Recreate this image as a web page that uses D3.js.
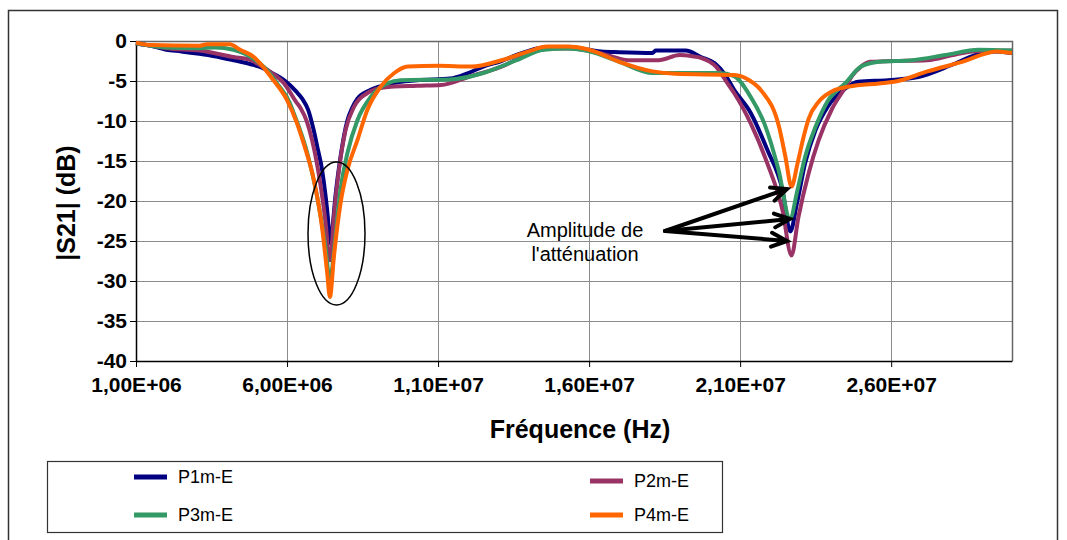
<!DOCTYPE html>
<html>
<head>
<meta charset="utf-8">
<script src="https://cdn.jsdelivr.net/npm/d3@7"></script>
<style>
  body { margin: 0; background: #fff; }
  svg { display: block; font-family: "Liberation Sans", Arial, sans-serif; }
</style>
</head>
<body>
<div id="chart"></div>
<script>
// frequency in MHz, |S21| in dB
const p1m = [[1,-0.3],[1.5,-0.6],[2,-1.1],[2.5,-1.3],[3.1,-1.6],[3.6,-1.9],[4.23,-2.4],[4.8,-2.9],[5.15,-3.3],[5.5,-4.0],[5.9,-4.9],[6.3,-6.3],[6.5,-7.2],[6.7,-8.6],[6.88,-11.1],[7.0,-13.2],[7.16,-16.1],[7.28,-19.5],[7.35,-22],[7.4,-24.6],[7.44,-25.3],[7.5,-23.5],[7.6,-19.5],[7.77,-14.5],[8.0,-9.9],[8.15,-8.4],[8.33,-7.2],[8.77,-6.1],[9.43,-5.3],[10.3,-4.9],[11.4,-4.7],[12.0,-4.0],[12.5,-3.2],[13.1,-2.5],[13.6,-1.75],[14.5,-0.8],[15.3,-0.75],[16.0,-1.1],[16.4,-1.3],[17.0,-1.4],[18.1,-1.5],[18.2,-1.2],[19.2,-1.2],[19.7,-2.0],[20.16,-2.8],[20.5,-4.2],[20.8,-6.1],[21.35,-9],[21.9,-13.6],[22.4,-18.6],[22.66,-23.8],[22.88,-20.3],[23.15,-15.3],[23.5,-11.1],[23.9,-8.2],[24.5,-5.9],[24.9,-5.1],[25.9,-4.9],[26.9,-4.5],[28.0,-3.0],[28.8,-1.75],[29.5,-1.3],[30,-1.5]];
const p2m = [[1,-0.3],[1.5,-0.6],[2,-0.9],[3.1,-1.2],[4.23,-2.0],[4.8,-2.4],[5.1,-3.0],[5.5,-4.0],[5.9,-5.3],[6.3,-7.6],[6.45,-8.4],[6.65,-10],[6.83,-12.4],[7.1,-17.8],[7.3,-23.6],[7.38,-27],[7.43,-27.4],[7.55,-22],[7.72,-16.1],[7.94,-11.1],[8.22,-8.2],[8.66,-6.5],[9.2,-5.8],[10.3,-5.6],[11.1,-5.5],[12.0,-4.5],[13.1,-3.2],[14.2,-1.3],[14.7,-0.95],[15.4,-0.95],[16.4,-1.55],[17.3,-2.4],[18.3,-2.4],[19.0,-1.75],[19.4,-1.9],[19.7,-2.1],[20.2,-3.2],[20.6,-5.4],[20.8,-6.5],[21.35,-10.3],[21.9,-15.3],[22.4,-21.1],[22.7,-26.8],[22.93,-22],[23.27,-16.5],[23.6,-12.4],[24.04,-8.5],[24.5,-5.7],[24.7,-4.4],[25.0,-3.2],[25.3,-2.6],[26,-2.5],[27.2,-2.4],[28.0,-1.8],[28.7,-1.3],[30,-1.2]];
const p3m = [[1,-0.3],[1.5,-0.6],[2,-0.8],[3.1,-0.9],[3.6,-0.8],[4.23,-1.1],[4.6,-1.6],[5.1,-2.8],[5.4,-3.9],[5.67,-5.3],[6.1,-7.8],[6.22,-9],[6.4,-10.8],[6.67,-14],[7.0,-19.5],[7.27,-25.7],[7.42,-29.9],[7.6,-24.5],[7.77,-18.6],[8.0,-14],[8.33,-9.9],[8.77,-7],[9.32,-5.3],[9.77,-4.9],[11.4,-4.8],[12.5,-4.0],[13.6,-2.4],[14.5,-1.1],[15.3,-0.95],[16.0,-1.3],[17.0,-2.6],[18.1,-4.0],[19.1,-4.0],[20.3,-4.0],[20.8,-4.4],[21.35,-7],[21.8,-10.3],[22.27,-16.1],[22.65,-22.2],[22.9,-18.6],[23.15,-14.5],[23.5,-10.7],[23.9,-7.5],[24.5,-5.2],[25.0,-3.2],[25.6,-2.6],[26.7,-2.4],[27.8,-1.75],[28.9,-1.1],[30,-1.2]];
const p4m = [[1,-0.2],[1.46,-0.5],[3.1,-0.6],[3.35,-0.4],[4.1,-0.4],[4.45,-1.1],[4.9,-2.0],[5.2,-3.2],[5.55,-4.9],[6.0,-7.4],[6.33,-10.3],[6.55,-12.8],[6.89,-17.4],[7.17,-23.6],[7.33,-29],[7.42,-32],[7.55,-27],[7.77,-20.3],[8.0,-16.1],[8.33,-12.4],[8.66,-8.6],[9.1,-5.7],[9.55,-4.0],[10.0,-3.2],[11,-3.1],[12.1,-3.2],[13.1,-2.4],[14.0,-1.3],[14.6,-0.7],[15.3,-0.7],[16.0,-1.1],[17.0,-2.6],[18.1,-3.8],[18.85,-4.1],[20.8,-4.25],[21.3,-4.9],[21.7,-6.2],[22.3,-10.9],[22.5,-14.5],[22.7,-18.2],[22.9,-15.3],[23.1,-12],[23.27,-9.7],[23.6,-7.6],[24.04,-6.3],[24.6,-5.7],[25.6,-5.3],[26.1,-5.1],[27.2,-3.8],[28.35,-2.6],[29.5,-1.3],[30,-1.5]];

const seriesNames = ["P1m-E", "P2m-E", "P3m-E", "P4m-E"];
const seriesColors = ["#000080", "#993366", "#339966", "#ff6600"];
const seriesData = [p1m, p2m, p3m, p4m];

const xTicks = [1e6, 6e6, 1.1e7, 1.6e7, 2.1e7, 2.6e7];
const yTicks = [0, -5, -10, -15, -20, -25, -30, -35, -40];
const noteLines = ["Amplitude de", "l'atténuation"];

const W = 1067, H = 540;
const plotL = 136, plotR = 1012, plotT = 41, plotB = 361;

const svg = d3.select("#chart").append("svg")
  .attr("width", W)
  .attr("height", H);

// outer frame
svg.append("rect")
  .attr("x", 8.5).attr("y", 10.5)
  .attr("width", 1049).attr("height", 540)
  .attr("fill", "none").attr("stroke", "#333").attr("stroke-width", 1.5);

const x = d3.scaleLinear().domain([1e6, 3e7]).range([plotL, plotR]);
const y = d3.scaleLinear().domain([-40, 0]).range([plotB, plotT]);

// 1,00E+06 style
function sciFormat(v) {
  const s = d3.format(".2e")(v);
  const [m, e] = s.split("e");
  const sign = e[0] === "-" ? "-" : "+";
  const ex = e.replace(/[+-]/, "").padStart(2, "0");
  return m.replace(".", ",") + "E" + sign + ex;
}

// grid
const grid = svg.append("g");
grid.selectAll(".hg").data(yTicks.slice(1, -1)).enter().append("line")
  .attr("x1", plotL).attr("x2", plotR)
  .attr("y1", d => Math.round(y(d)) + 0.5).attr("y2", d => Math.round(y(d)) + 0.5)
  .attr("stroke", "#8c8c8c").attr("stroke-width", 1);
grid.selectAll(".vg").data(xTicks.slice(1)).enter().append("line")
  .attr("y1", plotT).attr("y2", plotB)
  .attr("x1", d => Math.round(x(d)) + 0.5).attr("x2", d => Math.round(x(d)) + 0.5)
  .attr("stroke", "#8c8c8c").attr("stroke-width", 1);

// plot border top/right
svg.append("path")
  .attr("d", `M${plotL},${plotT + 0.5}H${plotR + 0.5}V${plotB}`)
  .attr("fill", "none").attr("stroke", "#666").attr("stroke-width", 1.5);

// axes
const xAxis = svg.append("g")
  .attr("transform", `translate(0,${plotB})`)
  .call(d3.axisBottom(x).tickValues(xTicks).tickFormat(sciFormat).tickSize(6).tickSizeOuter(0).tickPadding(10));
const yAxis = svg.append("g")
  .attr("transform", `translate(${plotL},0)`)
  .call(d3.axisLeft(y).tickValues(yTicks).tickFormat(d => d).tickSize(6).tickSizeOuter(0).tickPadding(3));

[xAxis, yAxis].forEach(a => {
  a.select(".domain").attr("stroke", "#000").attr("stroke-width", 1.5);
  a.selectAll(".tick line").attr("stroke", "#000");
  a.selectAll(".tick text")
    .attr("font-family", "'Liberation Sans', Arial, sans-serif")
    .attr("font-size", 21).attr("font-weight", "bold").attr("fill", "#000");
});

// axis titles
svg.append("text")
  .attr("x", 580).attr("y", 438)
  .attr("text-anchor", "middle")
  .attr("font-size", 25).attr("font-weight", "bold")
  .text("Fréquence (Hz)");
svg.append("text")
  .attr("transform", "translate(75,203) rotate(-90)")
  .attr("text-anchor", "middle")
  .attr("font-size", 25).attr("font-weight", "bold")
  .text("|S21| (dB)");

// series
const line = d3.line()
  .curve(d3.curveMonotoneX)
  .x(d => x(d[0] * 1e6))
  .y(d => y(d[1]));

svg.append("g").selectAll("path")
  .data(seriesData).enter().append("path")
  .attr("d", line)
  .attr("fill", "none")
  .attr("stroke", (d, i) => seriesColors[i])
  .attr("stroke-width", 4)
  .attr("stroke-linejoin", "round");

// annotation: ellipse around first dip
svg.append("ellipse")
  .attr("cx", 336.5).attr("cy", 233.5)
  .attr("rx", 28.5).attr("ry", 71.5)
  .attr("fill", "none").attr("stroke", "#000").attr("stroke-width", 1.5);

svg.append("g").selectAll("text")
  .data(noteLines).enter().append("text")
  .attr("x", 585).attr("y", (d, i) => 237 + i * 24)
  .attr("text-anchor", "middle")
  .attr("font-size", 20)
  .text(d => d);

// arrows pointing at second dip minima
const arrowFrom = [665, 231];
const arrowTips = [[787, 189], [790, 219], [787, 241]];
arrowTips.forEach(t => {
  const ang = Math.atan2(t[1] - arrowFrom[1], t[0] - arrowFrom[0]);
  const L = 17, spread = 0.42;
  const h1 = [t[0] - L * Math.cos(ang - spread), t[1] - L * Math.sin(ang - spread)];
  const h2 = [t[0] - L * Math.cos(ang + spread), t[1] - L * Math.sin(ang + spread)];
  svg.append("path")
    .attr("d", `M${arrowFrom[0]},${arrowFrom[1]}L${t[0]},${t[1]}M${h1[0]},${h1[1]}L${t[0]},${t[1]}L${h2[0]},${h2[1]}`)
    .attr("fill", "none").attr("stroke", "#000").attr("stroke-width", 4)
    .attr("stroke-linecap", "round").attr("stroke-linejoin", "miter");
});

// legend
const lg = svg.append("g");
lg.append("rect")
  .attr("x", 47.5).attr("y", 461.5).attr("width", 675).attr("height", 71)
  .attr("fill", "#fff").attr("stroke", "#333").attr("stroke-width", 1.2);
const legItems = lg.selectAll(".item").data(seriesNames).enter().append("g")
  .attr("transform", (d, i) => `translate(${i % 2 ? 590 : 134},${i === 0 ? 477 : i === 1 ? 481 : 515})`);
legItems.append("line")
  .attr("x1", 0).attr("x2", 33)
  .attr("stroke", (d, i) => seriesColors[i]).attr("stroke-width", 5);
legItems.append("text")
  .attr("x", 44).attr("y", 6)
  .attr("font-size", 18)
  .text(d => d);
</script>
</body>
</html>
